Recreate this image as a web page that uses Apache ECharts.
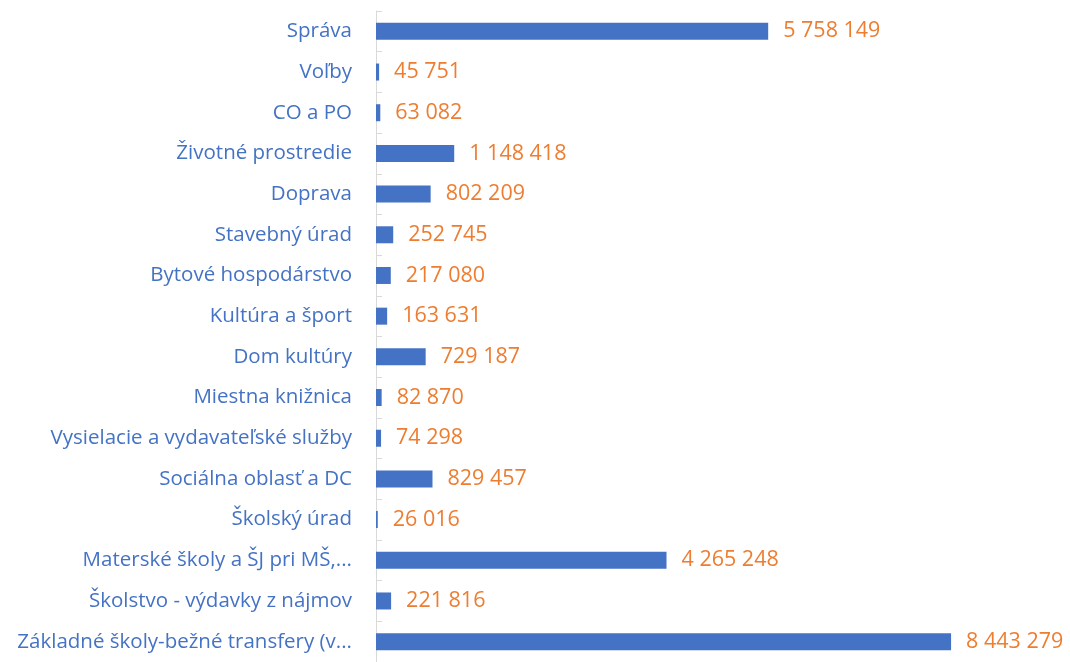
<!DOCTYPE html>
<html>
<head>
<meta charset="utf-8">
<script src="https://cdn.jsdelivr.net/npm/echarts@6/dist/echarts.min.js"></script>
<style>
    html, body { margin: 0; padding: 0; background: #fff; }
    #chart { width: 1070px; height: 662px; }
</style>
</head>
<body>
<div id="chart"></div>
<script>
// kategórie zhora nadol
var categories = [
    'Správa',
    'Voľby',
    'CO a PO',
    'Životné prostredie',
    'Doprava',
    'Stavebný úrad',
    'Bytové hospodárstvo',
    'Kultúra a šport',
    'Dom kultúry',
    'Miestna knižnica',
    'Vysielacie a vydavateľské služby',
    'Sociálna oblasť a DC',
    'Školský úrad',
    'Materské školy a ŠJ pri MŠ,...',
    'Školstvo - výdavky z nájmov',
    'Základné školy-bežné transfery (v...'
];
var values = [5758149, 45751, 63082, 1148418, 802209, 252745, 217080, 163631,
    729187, 82870, 74298, 829457, 26016, 4265248, 221816, 8443279];

function fmt(v) {
    return String(v).replace(/\B(?=(\d{3})+(?!\d))/g, ' ');
}

var chart = echarts.init(document.getElementById('chart'));
chart.setOption({
    animation: false,
    textStyle: { fontFamily: '"Open Sans", "Noto Sans", sans-serif' },
    grid: { left: 376, top: 11, width: 613, height: 656 },
    xAxis: {
        type: 'value',
        min: 0,
        max: 9000000,
        show: false,
        splitLine: { show: false }
    },
    yAxis: {
        type: 'category',
        inverse: true,
        data: categories,
        axisLine: { show: true, lineStyle: { color: '#d9d9d9', width: 1 } },
        axisTick: { show: true, inside: true, length: 6, lineStyle: { color: '#d9d9d9' } },
        axisLabel: { color: '#4472C4', fontSize: 20.5, margin: 24 }
    },
    series: [{
        type: 'bar',
        data: values,
        barWidth: 17,
        itemStyle: { color: '#4472C4' },
        label: {
            show: true,
            position: 'right',
            distance: 15,
            color: '#ED7D31',
            fontSize: 21.5,
            formatter: function (p) { return fmt(p.value); }
        }
    }]
});
</script>
</body>
</html>
